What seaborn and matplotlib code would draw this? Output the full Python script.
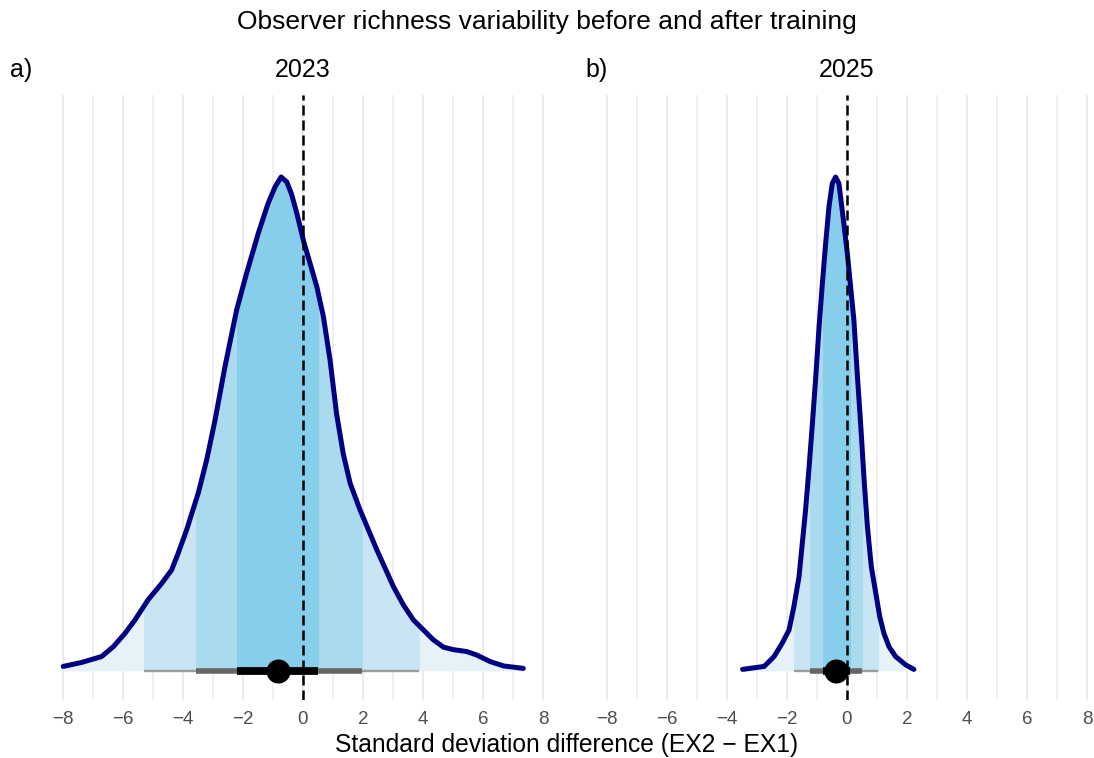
import numpy as np
import matplotlib.pyplot as plt
import seaborn as sns
from matplotlib.patches import Rectangle

# text
title = "Observer richness variability before and after training"
years = ["2023", "2025"]
tags = ["a)", "b)"]
x_label = "Standard deviation difference (EX2 \u2212 EX1)"
x_ticks = [-8, -6, -4, -2, 0, 2, 4, 6, 8]
x_minor = [-7, -5, -3, -1, 1, 3, 5, 7]

# density curves (scaled so the peak is 1)
dens_2023_x = [-7.99, -7.38, -6.71, -6.32, -5.93, -5.6, -5.16, -4.71, -4.38, -4.16,
               -3.88, -3.49, -3.21, -2.93, -2.6, -2.21, -1.88, -1.49, -1.16, -0.93,
               -0.73, -0.54, -0.38, -0.2, 0.02, 0.46, 0.68, 0.9, 1.12, 1.34,
               1.57, 1.9, 2.46, 3.01, 3.34, 3.68, 4.01, 4.34, 4.68, 5.01,
               5.46, 5.79, 6.23, 6.68, 7.34]
dens_2023_y = [0.009, 0.017, 0.029, 0.049, 0.076, 0.103, 0.144, 0.177, 0.204, 0.238,
               0.285, 0.36, 0.427, 0.508, 0.616, 0.731, 0.805, 0.886, 0.947, 0.98,
               1.0, 0.99, 0.965, 0.925, 0.87, 0.778, 0.717, 0.63, 0.52, 0.44,
               0.38, 0.326, 0.245, 0.171, 0.134, 0.103, 0.083, 0.063, 0.048, 0.043,
               0.039, 0.032, 0.019, 0.01, 0.005]

dens_2025_x = [-3.48, -2.76, -2.43, -2.16, -1.93, -1.77, -1.6, -1.49, -1.38, -1.27,
               -1.16, -1.04, -0.93, -0.82, -0.71, -0.6, -0.49, -0.38, -0.27, -0.16,
               0.01, 0.12, 0.23, 0.34, 0.46, 0.57, 0.68, 0.81, 0.96, 1.09,
               1.23, 1.4, 1.62, 1.96, 2.23]
dens_2025_y = [0.003, 0.009, 0.029, 0.056, 0.083, 0.13, 0.19, 0.258, 0.326, 0.407,
               0.495, 0.596, 0.697, 0.785, 0.866, 0.94, 0.987, 1.0, 0.987, 0.933,
               0.846, 0.778, 0.71, 0.603, 0.495, 0.387, 0.292, 0.211, 0.157, 0.11,
               0.076, 0.049, 0.029, 0.012, 0.003]

# intervals: 95 %, 80 %, 50 % and the median
ci95 = [[-5.29, 3.88], [-1.77, 1.04]]
ci80 = [[-3.57, 1.98], [-1.23, 0.51]]
ci50 = [[-2.2, 0.5], [-0.8, 0.1]]
medians = [-0.84, -0.36]

curves_x = [dens_2023_x, dens_2025_x]
curves_y = [dens_2023_y, dens_2025_y]

sns.set_style("white")
plt.rcParams["font.family"] = ["Liberation Sans", "DejaVu Sans"]
plt.rcParams["text.color"] = "black"

fig = plt.figure(figsize=(10.94, 7.58), dpi=100)
W, H = 1094, 758
lefts = [56, 600]
width = 494
top, bottom = 95, 700

band_cols = ["#c9e5f3", "#a9daee", "#87ceeb"]
line_cols = ["#9a9a9a", "#666666", "#000000"]
line_ws = [1.7, 4.0, 5.6]

for i in range(2):
    ax = fig.add_axes([lefts[i] / W, 1 - bottom / H, width / W, (bottom - top) / H])
    xs = np.array(curves_x[i])
    ys = np.array(curves_y[i])

    ax.fill_between(xs, 0, ys, color="#e6f1f8", lw=0, zorder=1)
    for (lo, hi), col in zip([ci95[i], ci80[i], ci50[i]], band_cols):
        poly = ax.fill_between(xs, 0, ys, color=col, lw=0, zorder=2)
        clip = Rectangle((lo, -1), hi - lo, 3, transform=ax.transData)
        poly.set_clip_path(clip)

    sns.lineplot(x=xs, y=ys, sort=False, estimator=None, color="#000080",
                 lw=3.6, ax=ax, zorder=4)
    ax.lines[-1].set_solid_joinstyle("round")
    ax.lines[-1].set_solid_capstyle("round")

    for (lo, hi), col, lw in zip([ci95[i], ci80[i], ci50[i]], line_cols, line_ws):
        ax.plot([lo, hi], [0, 0], color=col, lw=lw, solid_capstyle="butt", zorder=5)

    ax.axvline(0, color="black", lw=1.8, dashes=(4, 2), zorder=6)
    sns.scatterplot(x=[medians[i]], y=[0], color="black", s=300, linewidth=0,
                    ax=ax, zorder=7)

    ax.set_xlim(-8.23, 8.23)
    ax.set_ylim(-0.059, 1.166)
    ax.set_xticks(x_ticks)
    ax.set_xticks(x_minor, minor=True)
    ax.set_yticks([])
    ax.grid(axis="x", which="major", color="#ebebeb", lw=1.4, zorder=0)
    ax.grid(axis="x", which="minor", color="#ebebeb", lw=1.1, zorder=0)
    ax.set_axisbelow(True)
    ax.tick_params(axis="x", which="both", length=0, pad=8, labelsize=13.5,
                   labelcolor="#4d4d4d")
    for s in ax.spines.values():
        s.set_visible(False)
    ax.set_xlabel("")
    ax.set_ylabel("")

    fig.text((lefts[i] + width / 2) / W, 1 - 70 / H, years[i], ha="center",
             va="center", fontsize=18)

fig.text(10 / W, 1 - 70 / H, tags[0], ha="left", va="center", fontsize=18)
fig.text(585 / W, 1 - 70 / H, tags[1], ha="left", va="center", fontsize=18)
fig.text(547 / W, 1 - 22 / H, title, ha="center", va="center", fontsize=19)
fig.text(567 / W, 1 - 745 / H, x_label, ha="center", va="center", fontsize=17.7)

fig.savefig("out.png", dpi=100)
